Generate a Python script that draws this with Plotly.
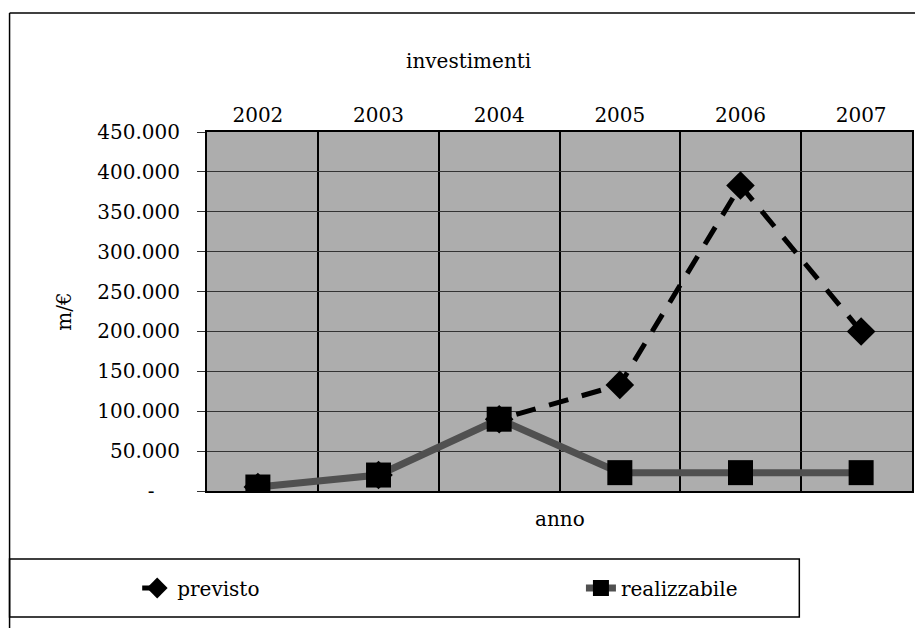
import plotly.graph_objects as go

# --- data -------------------------------------------------------------
anni = ["2002", "2003", "2004", "2005", "2006", "2007"]
previsto = [5000, 20000, 90000, 133000, 383000, 200000]
realizzabile = [5000, 20000, 90000, 23000, 23000, 23000]
y_ticks = [0, 50000, 100000, 150000, 200000, 250000, 300000, 350000, 400000, 450000]
y_ticklabels = ["-\u00a0\u00a0\u00a0\u00a0", "50.000", "100.000", "150.000", "200.000",
                "250.000", "300.000", "350.000", "400.000", "450.000"]

# --- geometry (pixels) ------------------------------------------------
W, H = 917, 628
PL, PR, PT, PB = 207, 914, 132, 491   # plot area edges


def px(x):
    return (x - PL) / (PR - PL)


def py(y):
    return (PB - y) / (PB - PT)


FONT = "DejaVu Serif"
legend_font = dict(family=FONT, size=20, color="black")

fig = go.Figure()

fig.add_trace(go.Scatter(
    x=anni, y=previsto, name="previsto", mode="lines+markers",
    line=dict(color="black", width=5, dash="20px,14px"),
    marker=dict(symbol="diamond", size=22, color="black"),
    legend="legend",
))
fig.add_trace(go.Scatter(
    x=anni, y=realizzabile, name="realizzabile", mode="lines+markers",
    line=dict(color="#505050", width=7),
    marker=dict(symbol="square", size=25, color="black"),
    legend="legend2",
))

shapes = [
    # outer chart frame (top and left edges)
    dict(type="line", xref="paper", yref="paper", x0=px(9), x1=px(917), y0=py(13), y1=py(13),
         line=dict(color="black", width=1.5)),
    dict(type="line", xref="paper", yref="paper", x0=px(9), x1=px(9), y0=py(13), y1=py(628),
         line=dict(color="black", width=1.5)),
    # legend box
    dict(type="rect", xref="paper", yref="paper", x0=px(9), x1=px(801), y0=py(559), y1=py(617),
         line=dict(color="black", width=1.5), fillcolor="rgba(0,0,0,0)"),
]

annotations = [
    dict(text="investimenti", xref="paper", yref="paper", x=px(469), y=py(47),
         showarrow=False, font=dict(family=FONT, size=20, color="black")),
    dict(text="anno", xref="paper", yref="paper", x=px(561), y=py(533),
         showarrow=False, font=dict(family=FONT, size=20, color="black")),
]

fig.update_layout(
    width=W, height=H,
    margin=dict(l=PL, r=W - PR, t=PT, b=H - PB),
    paper_bgcolor="white",
    plot_bgcolor="#adadad",
    font=dict(family=FONT, size=20, color="black"),
    showlegend=True,
    legend=dict(
        orientation="h", x=px(137), xanchor="left", y=py(588), yanchor="middle",
        bgcolor="rgba(0,0,0,0)", borderwidth=0, font=legend_font,
    ),
    legend2=dict(
        orientation="h", x=px(582), xanchor="left", y=py(588), yanchor="middle",
        bgcolor="rgba(0,0,0,0)", borderwidth=0, font=legend_font,
    ),
    shapes=shapes,
    annotations=annotations,
    xaxis=dict(
        type="category", side="top", tickson="boundaries",
        showgrid=True, gridcolor="black", gridwidth=1.5,
        showline=True, linecolor="black", linewidth=2, mirror=True,
        ticks="", tickfont=dict(family=FONT, size=20, color="black"),
    ),
    yaxis=dict(
        range=[0, 450000], tickvals=y_ticks, ticktext=y_ticklabels,
        showgrid=True, gridcolor="#333333", gridwidth=1,
        showline=True, linecolor="black", linewidth=2, mirror=True,
        zeroline=False,
        ticks="outside", ticklen=8, tickcolor="#333333",
        ticklabelstandoff=13,
        tickfont=dict(family=FONT, size=20, color="black"),
        title=dict(text="m/€", standoff=20, font=dict(family=FONT, size=20, color="black")),
    ),
)

fig.write_html("out.html")
